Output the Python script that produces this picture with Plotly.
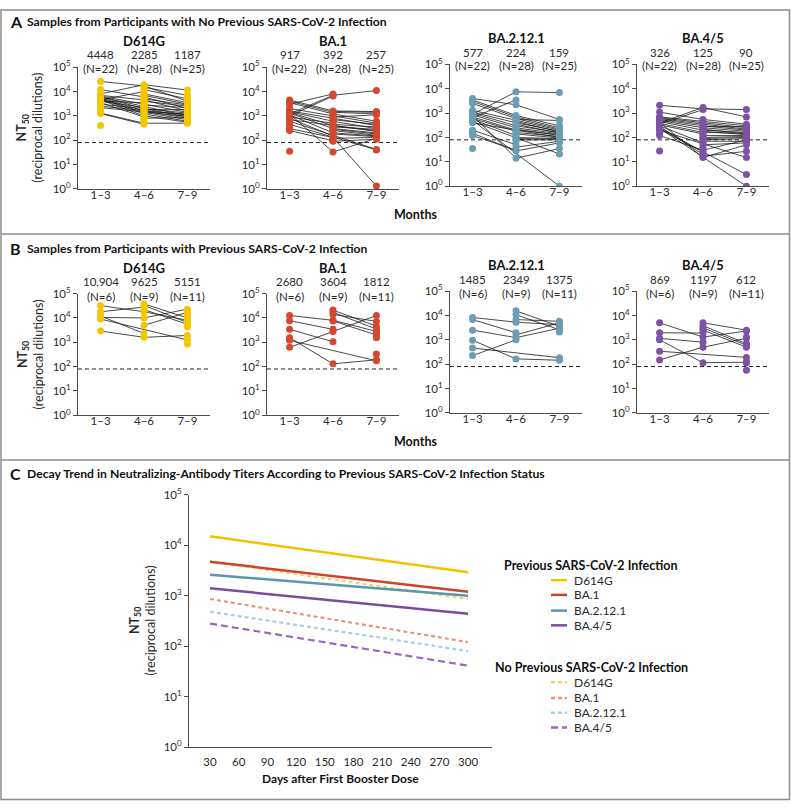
import plotly.graph_objects as go

W, H = 791, 807
N = None

# ---------------- data ----------------
variants = ["D614G", "BA.1", "BA.2.12.1", "BA.4/5"]
months = ["1–3", "4–6", "7–9"]
a_n = ["(N=22)", "(N=28)", "(N=25)"]
b_n = ["(N=6)", "(N=9)", "(N=11)"]
a_gmt_d614g = ["4448", "2285", "1187"]
a_gmt_ba1 = ["917", "392", "257"]
a_gmt_ba2121 = ["577", "224", "159"]
a_gmt_ba45 = ["326", "125", "90"]
b_gmt_d614g = ["10,904", "9625", "5151"]
b_gmt_ba1 = ["2680", "3604", "1812"]
b_gmt_ba2121 = ["1485", "2349", "1375"]
b_gmt_ba45 = ["869", "1197", "612"]
lod = 80

# participant values at months 1-3, 4-6, 7-9 (None = no sample)
a_d614g = [
    (26000, 17000, 4000), (12000, 6000, 2000), (8000, 19000, 11500), (7000, 4500, 1600),
    (6500, 3000, 1400), (6000, 2500, 1000), (6000, 2000, 900), (5500, 1600, 800),
    (5000, 1400, 700), (5000, 1200, 600), (4500, 1000, 550), (1300, 500, 500),
    (4500, 10000, N), (4000, 3500, N), (4000, 2200, N), (3500, 900, N), (1250, 450, N),
    (3000, N, 1300), (2500, N, 1100), (2200, N, 950),
    (1800, N, N), (400, N, N),
    (N, 15000, 7000), (N, 12000, 5000), (N, 8000, 3500), (N, 7000, 3000), (N, 5000, 2800),
    (N, 4000, 2500), (N, 2800, 2200), (N, 1800, 1800), (N, 1500, 1200), (N, 800, 850),
    (N, 650, N),
]
a_ba1 = [
    (4500, 1600, 1500), (4000, 1400, 1200), (3500, 1200, 600), (1200, 7000, 11000),
    (2000, 1000, 500), (1600, 800, 400), (1500, 600, 300), (1400, 400, 250),
    (1300, 300, 200), (1200, 33, 120), (1100, 200, 150), (300, 130, 1.3),
    (3000, 8000, N), (1000, 6500, N), (900, 500, N), (800, 150, N), (250, 95, N),
    (700, N, 230), (600, N, 42), (450, N, 40),
    (400, N, N), (35, N, N),
    (N, 1500, 1400), (N, 900, 1100), (N, 700, 450), (N, 450, 350), (N, 350, 280),
    (N, 280, 180), (N, 250, 160), (N, 180, 140), (N, 120, 130), (N, 90, 110),
    (N, 100, N),
]
a_ba2121 = [
    (4000, 2200, 550), (3500, 800, 300), (3000, 700, 250), (900, 7500, 7000),
    (2500, 600, 220), (1300, 500, 200), (1100, 400, 180), (1000, 300, 160),
    (850, 250, 140), (800, 14, 35), (700, 200, 130), (150, 28, 60),
    (650, 3500, N), (600, 180, N), (550, 120, N), (200, 50, N), (120, 30, N),
    (500, N, 1), (450, N, 21), (400, N, 100),
    (180, N, N), (35, N, N),
    (N, 550, 500), (N, 450, 170), (N, 350, 150), (N, 220, 120), (N, 160, 110),
    (N, 140, 95), (N, 100, 90), (N, 90, 85), (N, 80, 80), (N, 40, 70),
    (N, 70, N),
]
a_ba45 = [
    (2100, 1500, 1400), (1100, 550, 350), (700, 450, 300), (400, 1700, 700),
    (650, 400, 250), (600, 350, 220), (550, 300, 200), (500, 250, 180),
    (450, 200, 160), (420, 15, 50), (380, 160, 150), (120, 30, 80),
    (350, 1400, N), (330, 140, N), (300, 60, N), (280, 20, N), (260, 25, N),
    (240, N, 1), (220, N, 3), (200, N, 15),
    (150, N, N), (28, N, N),
    (N, 280, 280), (N, 220, 140), (N, 180, 130), (N, 120, 120), (N, 100, 110),
    (N, 90, 100), (N, 80, 90), (N, 70, 70), (N, 50, 60), (N, 17, 27),
    (N, 40, N),
]
b_d614g = [
    (32000, 18000, 8000), (10500, 10000, 23000), (2900, 1600, 1900),
    (18000, 28000, N), (12000, 2300, N),
    (9000, N, 1250),
    (N, 38000, 10000), (N, 33000, 6500), (N, 5000, 17000), (N, 22000, 5500),
    (N, N, 13000), (N, N, 4300), (N, N, 850),
]
b_ba1 = [
    (12600, 8000, 2800), (1550, 130, 190), (620, 2800, 12500),
    (7700, 3400, N), (3400, 1050, N),
    (1200, N, 175),
    (N, 21000, 4600), (N, 17000, 3500), (N, 14000, 7200), (N, 7500, 2000),
    (N, N, 2500), (N, N, 1550), (N, N, 330),
]
b_ba2121 = [
    (8300, 5300, 4200), (2500, 1230, 3000), (960, 165, 145),
    (6800, 1950, N), (225, 1000, N),
    (460, N, 185),
    (N, 15500, 3600), (N, 10700, 2600), (N, 6800, 5800), (N, 1600, 5000),
    (N, N, 2300), (N, N, 2100), (N, N, 160),
]
b_ba45 = [
    (5000, 1300, 2300), (1000, 115, 120), (150, 500, 1150),
    (1950, 1900, N), (1150, 800, N),
    (340, N, 190),
    (N, 5000, 2500), (N, 3800, 700), (N, 3100, 600), (N, 2500, 500),
    (N, N, 1300), (N, N, 115), (N, N, 56),
]

# panel C: modeled decay lines (days 30 -> 300)
c_days = [30, 300]
c_prev_d614g = [15000, 2900]
c_prev_ba1 = [4700, 1200]
c_prev_ba2121 = [2600, 1000]
c_prev_ba45 = [1400, 440]
c_none_d614g = [4700, 860]
c_none_ba1 = [860, 120]
c_none_ba2121 = [480, 80]
c_none_ba45 = [280, 41]
c_xticks = [30, 60, 90, 120, 150, 180, 210, 240, 270, 300]

# ---------------- styling ----------------
FONT = "Lato, 'Open Sans', sans-serif"
AX = "#4a4a4a"
TXT = "#2a2a2a"
marker_cols = ["#F4C600", "#D3482F", "#6B9EB5", "#7E52A3"]
solid_cols = ["#F2C200", "#D0422C", "#5B96AE", "#7B4C9E"]
light_cols = ["#E9D574", "#E8967C", "#A9CFDF", "#9E66BA"]


def fx(x):
    return x / W


def fy(y):
    return 1 - y / H


fig = go.Figure()
layout = dict(
    width=W, height=H, margin=dict(l=0, r=0, t=0, b=0),
    paper_bgcolor="white", plot_bgcolor="white", showlegend=False,
    font=dict(family=FONT, size=11, color=TXT),
)
annotations = []
shapes = []

xdoms = [(78, 210), (267, 399), (450, 582), (637, 769)]
ydoms_a = [(59.3, 183.3), (59.3, 183.3), (56.5, 180.5), (56.5, 180.5)]
ydoms_b = [(290, 414), (290, 414), (287.5, 411.5), (287.5, 411.5)]
tvals = [1, 10, 100, 1000, 10000, 100000]
ttext = [f"10<sup>{i}</sup>" for i in range(6)]

panels = [
    (
        [a_d614g, a_ba1, a_ba2121, a_ba45],
        [a_gmt_d614g, a_gmt_ba1, a_gmt_ba2121, a_gmt_ba45], a_n, ydoms_a,
        [33, 33, 29.5, 29.5], [46.5, 46.5, 44, 44], [60.5, 60.5, 58, 58],
    ),
    (
        [b_d614g, b_ba1, b_ba2121, b_ba45],
        [b_gmt_d614g, b_gmt_ba1, b_gmt_ba2121, b_gmt_ba45], b_n, ydoms_b,
        [263.5, 263.5, 260.5, 260.5], [278, 278, 275.5, 275.5], [292.5, 292.5, 290, 290],
    ),
]

for p, (datas, gmts, ns, ydoms, ytitles, ygmts, yns) in enumerate(panels):
    for j in range(4):
        idx = 1 + 4 * p + j
        xa, ya = f"x{idx}", f"y{idx}"
        data = datas[j]
        lx, ly, mx, my = [], [], [], []
        for tr in data:
            pts = [(k + 1, v) for k, v in enumerate(tr) if v is not None]
            for k, v in pts:
                mx.append(k)
                my.append(v)
            if len(pts) >= 2:
                for k, v in pts:
                    lx.append(k)
                    ly.append(v)
                lx.append(None)
                ly.append(None)
        fig.add_trace(go.Scatter(x=[0.48, 3.52], y=[lod, lod], mode="lines",
                                 line=dict(color="#222", width=1, dash="4px,3px"),
                                 xaxis=xa, yaxis=ya, hoverinfo="skip"))
        fig.add_trace(go.Scatter(x=lx, y=ly, mode="lines", connectgaps=False,
                                 line=dict(color="#1a1a1a", width=0.8),
                                 xaxis=xa, yaxis=ya, hoverinfo="skip"))
        fig.add_trace(go.Scatter(x=mx, y=my, mode="markers",
                                 marker=dict(color=marker_cols[j], size=7, line=dict(width=0)),
                                 xaxis=xa, yaxis=ya, name=variants[j]))
        y0, y1 = ydoms[j]
        layout[f"xaxis{idx}"] = dict(
            domain=[fx(xdoms[j][0]), fx(xdoms[j][1])], anchor=ya, range=[0.48, 3.52],
            tickvals=[1, 2, 3], ticktext=months, showline=True, linecolor=AX, linewidth=1,
            showgrid=False, zeroline=False, ticks="", tickfont=dict(size=11.5, color=TXT),
            ticklabelstandoff=-5, fixedrange=True,
        )
        layout[f"yaxis{idx}"] = dict(
            domain=[fy(y1), fy(y0)], anchor=xa, type="log", range=[0, 5],
            tickvals=tvals, ticktext=ttext, showline=True, linecolor=AX, linewidth=1,
            ticks="outside", ticklen=4, tickcolor=AX, showgrid=False, zeroline=False,
            tickfont=dict(size=11.5, color=TXT), fixedrange=True,
        )
        cx = fx((xdoms[j][0] + xdoms[j][1]) / 2)
        annotations.append(dict(text=f"<b>{variants[j]}</b>", x=cx, y=fy(ytitles[j]), xref="paper", yref="paper",
                                showarrow=False, xanchor="center", yanchor="middle", font=dict(size=13, color="#111")))
        for k in range(3):
            annotations.append(dict(text=gmts[j][k], x=k + 1, y=fy(ygmts[j]), xref=xa, yref="paper",
                                    showarrow=False, xanchor="center", yanchor="middle", font=dict(size=11.5, color=TXT)))
            annotations.append(dict(text=ns[k], x=k + 1, y=fy(yns[j]), xref=xa, yref="paper",
                                    showarrow=False, xanchor="center", yanchor="middle", font=dict(size=11.5, color=TXT)))

# y-axis titles for panels A, B, C
for (xc, yc) in [(30, 121), (30, 352), (142, 623)]:
    annotations.append(dict(text="<b>NT<sub>50</sub></b><br>(reciprocal dilutions)", x=fx(xc), y=fy(yc),
                            xref="paper", yref="paper", showarrow=False, textangle=-90,
                            xanchor="center", yanchor="middle", font=dict(size=12.5, color=TXT)))

# Months labels
for ym in [209, 441]:
    annotations.append(dict(text="<b>Months</b>", x=fx(415), y=fy(ym), xref="paper", yref="paper",
                            showarrow=False, xanchor="center", yanchor="middle", font=dict(size=12.5, color="#111")))

# panel headers
headers = [
    ("A", "Samples from Participants with No Previous SARS-CoV-2 Infection", 13),
    ("B", "Samples from Participants with Previous SARS-CoV-2 Infection", 244),
    ("C", "Decay Trend in Neutralizing-Antibody Titers According to Previous SARS-CoV-2 Infection Status", 473),
]
for letter, txt, yh in headers:
    annotations.append(dict(text=f"<b>{letter}</b>", x=fx(8), y=fy(yh), xref="paper", yref="paper",
                            showarrow=False, xanchor="left", yanchor="middle", font=dict(size=16, color="#111")))
    annotations.append(dict(text=f"<b>{txt}</b>", x=fx(25), y=fy(yh), xref="paper", yref="paper",
                            showarrow=False, xanchor="left", yanchor="middle", font=dict(size=12.2, color="#111")))

# ---------------- panel C ----------------
prev_series = [c_prev_d614g, c_prev_ba1, c_prev_ba2121, c_prev_ba45]
none_series = [c_none_d614g, c_none_ba1, c_none_ba2121, c_none_ba45]
dash_c = ["4px,3px", "4px,3px", "4px,3px", "7px,4px"]
for j in range(4):
    fig.add_trace(go.Scatter(x=c_days, y=none_series[j], mode="lines", xaxis="x9", yaxis="y9",
                             line=dict(color=light_cols[j], width=2.2, dash=dash_c[j]),
                             name=f"No previous {variants[j]}"))
for j in range(4):
    fig.add_trace(go.Scatter(x=c_days, y=prev_series[j], mode="lines", xaxis="x9", yaxis="y9",
                             line=dict(color=solid_cols[j], width=2.5), name=f"Previous {variants[j]}"))

layout["xaxis9"] = dict(
    domain=[fx(189), fx(492)], anchor="y9", range=[8, 325], tickvals=c_xticks,
    showline=True, linecolor=AX, linewidth=1, showgrid=False, zeroline=False, ticks="",
    tickfont=dict(size=11.5, color=TXT), ticklabelstandoff=4, fixedrange=True,
)
layout["yaxis9"] = dict(
    domain=[fy(752), fy(495)], anchor="x9", type="log", range=[0, 5], tickvals=tvals, ticktext=ttext,
    showline=True, linecolor=AX, linewidth=1, ticks="outside", ticklen=4, tickcolor=AX,
    showgrid=False, zeroline=False, tickfont=dict(size=11.5, color=TXT), fixedrange=True,
)
annotations.append(dict(text="<b>Days after First Booster Dose</b>", x=fx(340), y=fy(784), xref="paper",
                        yref="paper", showarrow=False, xanchor="center", yanchor="middle",
                        font=dict(size=12, color="#111")))

# manual legend
leg_groups = [
    ("Previous SARS-CoV-2 Infection", 567, [582, 597, 613, 628], solid_cols, ["solid"] * 4),
    ("No Previous SARS-CoV-2 Infection", 671, [686, 702, 717, 732], light_cols, dash_c),
]
for title, yt, ys, cols, dashes in leg_groups:
    annotations.append(dict(text=f"<b>{title}</b>", x=fx(591), y=fy(yt), xref="paper", yref="paper",
                            showarrow=False, xanchor="center", yanchor="middle", font=dict(size=12.5, color="#111")))
    for j in range(4):
        shapes.append(dict(type="line", xref="paper", yref="paper", x0=fx(551), x1=fx(567),
                           y0=fy(ys[j]), y1=fy(ys[j]), line=dict(color=cols[j], width=2.5, dash=dashes[j])))
        annotations.append(dict(text=variants[j], x=fx(572), y=fy(ys[j]), xref="paper", yref="paper",
                                showarrow=False, xanchor="left", yanchor="middle", font=dict(size=12, color=TXT)))

# frame and separators
shapes.append(dict(type="rect", xref="paper", yref="paper", x0=fx(1), x1=fx(789.5), y0=fy(805.5), y1=fy(1),
                   line=dict(color="#8c8c8c", width=1.5)))
for ysep in [229.3, 459.5]:
    shapes.append(dict(type="line", xref="paper", yref="paper", x0=fx(1), x1=fx(789.5), y0=fy(ysep), y1=fy(ysep),
                       line=dict(color="#8c8c8c", width=1.5)))

layout["annotations"] = annotations
layout["shapes"] = shapes
fig.update_layout(**layout)

fig.write_html("out.html", config={"displayModeBar": False},
               post_script="document.body.style.margin='0';")
